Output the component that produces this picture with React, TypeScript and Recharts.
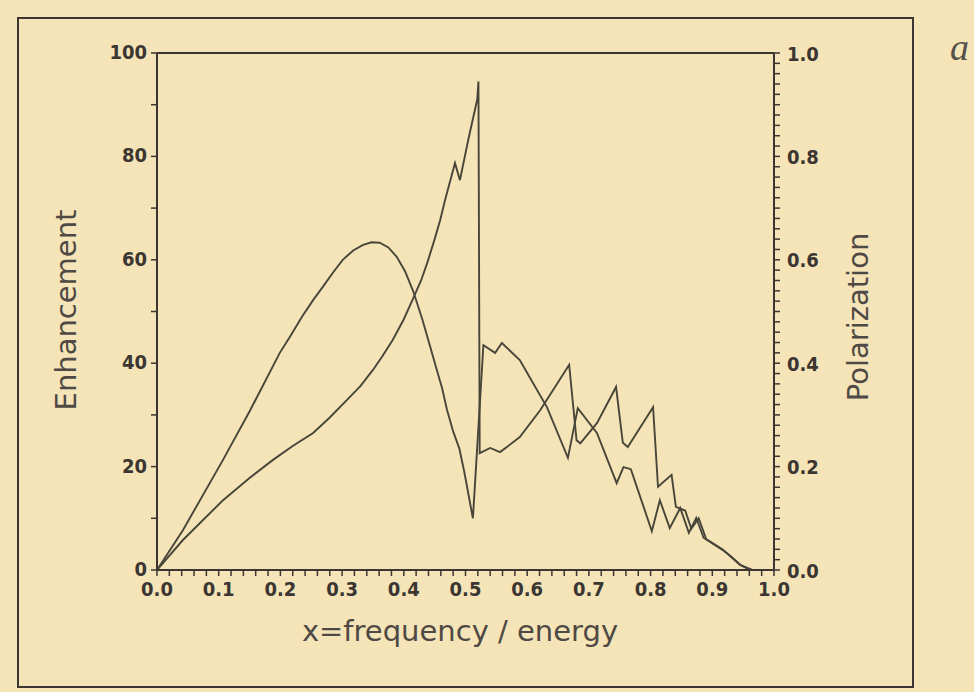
import { LineChart, Line, XAxis, YAxis, ReferenceLine, Customized } from "recharts";

// enhancement curve (left axis, 0..100)
const enhX = [
  0, 0.042, 0.107, 0.15, 0.188, 0.22, 0.253, 0.28, 0.308, 0.33, 0.35, 0.365,
  0.382, 0.4, 0.415, 0.428, 0.438, 0.45, 0.459, 0.467, 0.483, 0.491, 0.505,
  0.519, 0.521, 0.523, 0.54, 0.556, 0.588, 0.621, 0.642, 0.668, 0.68, 0.686,
  0.713, 0.744, 0.755, 0.763, 0.804, 0.812, 0.834, 0.841, 0.856, 0.866, 0.878,
  0.89, 0.9, 0.917, 0.93, 0.945, 0.961, 0.99,
];
const enhY = [
  0, 5.8, 13.5, 17.8, 21.3, 24, 26.5, 29.5, 32.9, 35.6, 38.7, 41.3, 44.5, 48.5,
  52.5, 56, 59.4, 64, 67.7, 71.6, 78.7, 75.4, 83.5, 91, 94.5, 22.6, 23.6, 22.8,
  25.7, 30.9, 34.8, 39.7, 25.1, 24.5, 28.4, 35.4, 24.6, 23.8, 31.5, 16.1, 18.4,
  12.2, 11.5, 8, 10, 6, 5.2, 3.9, 2.6, 1, 0, 0,
];

// polarization curve (right axis, 0..1)
const polX = [
  0, 0.042, 0.107, 0.151, 0.199, 0.216, 0.235, 0.253, 0.269, 0.285, 0.301, 0.318,
  0.334, 0.348, 0.361, 0.375, 0.389, 0.402, 0.415, 0.43, 0.442, 0.452, 0.462,
  0.47, 0.48, 0.49, 0.498, 0.512, 0.529, 0.548, 0.559, 0.588, 0.604, 0.632, 0.666,
  0.682, 0.713, 0.745, 0.756, 0.768, 0.802, 0.815, 0.831, 0.848, 0.862, 0.874,
  0.886, 0.9, 0.917, 0.93, 0.945, 0.965,
];
const polY = [
  0, 0.077, 0.213, 0.309, 0.42, 0.452, 0.49, 0.522, 0.548, 0.575, 0.6, 0.618,
  0.629, 0.634, 0.633, 0.624, 0.605, 0.578, 0.54, 0.485, 0.435, 0.393, 0.352,
  0.31, 0.268, 0.235, 0.19, 0.1, 0.435, 0.42, 0.439, 0.406, 0.373, 0.315, 0.217,
  0.313, 0.265, 0.168, 0.199, 0.195, 0.075, 0.135, 0.081, 0.12, 0.072, 0.101,
  0.062, 0.052, 0.039, 0.026, 0.01, 0,
];

const xMajor = [0, 0.1, 0.2, 0.3, 0.4, 0.5, 0.6, 0.7, 0.8, 0.9, 1.0];
const xLabels = ["0.0", "0.1", "0.2", "0.3", "0.4", "0.5", "0.6", "0.7", "0.8", "0.9", "1.0"];
const leftMajor = [0, 20, 40, 60, 80, 100];
const leftLabels = ["0", "20", "40", "60", "80", "100"];
const rightMajor = [0, 0.2, 0.4, 0.6, 0.8, 1.0];
const rightLabels = ["0.0", "0.2", "0.4", "0.6", "0.8", "1.0"];

const fineTicks = Array.from({ length: 51 }, (_, i) => i / 50);
const leftTicks = Array.from({ length: 11 }, (_, i) => i * 10);

const BG = "#f4e4b7";
const INK = "#3b3632";
const CURVE = "#48453a";
const TICK_FONT = "'DejaVu Sans Condensed', 'DejaVu Sans', sans-serif";
const TITLE_FONT = "'DejaVu Sans', sans-serif";

const enhData = enhX.map((x, i) => ({ x, y: enhY[i] }));
const polData = polX.map((x, i) => ({ x, y: polY[i] }));

function labelFor(v: number, majors: number[], labels: string[]) {
  const i = majors.findIndex((m) => Math.abs(m - v) < 1e-6);
  return i < 0 ? null : labels[i];
}

function XTick(props: any) {
  const { x, y, payload } = props;
  const lab = labelFor(payload.value, xMajor, xLabels);
  return (
    <g>
      <line x1={x} x2={x} y1={y} y2={y + 6} stroke={INK} strokeWidth={1.5} />
      {lab && (
        <text x={x} y={y + 26} textAnchor="middle" fill={INK} fontFamily={TICK_FONT}
          fontStretch="condensed" fontWeight="bold" fontSize={20}>
          {lab}
        </text>
      )}
    </g>
  );
}

function LeftTick(props: any) {
  const { x, y, payload } = props;
  const lab = labelFor(payload.value, leftMajor, leftLabels);
  return (
    <g>
      <line x1={x - 6} x2={x} y1={y} y2={y} stroke={INK} strokeWidth={1.5} />
      {lab && (
        <text x={x - 10} y={y + 6} textAnchor="end" fill={INK} fontFamily={TICK_FONT}
          fontStretch="condensed" fontWeight="bold" fontSize={20}>
          {lab}
        </text>
      )}
    </g>
  );
}

function RightTick(props: any) {
  const { x, y, payload } = props;
  const lab = labelFor(payload.value, rightMajor, rightLabels);
  return (
    <g>
      <line x1={x} x2={x + 6} y1={y} y2={y} stroke={INK} strokeWidth={1.5} />
      {lab && (
        <text x={x + 13} y={y + 7.5} textAnchor="start" fill={INK} fontFamily={TICK_FONT}
          fontStretch="condensed" fontWeight="bold" fontSize={20}>
          {lab}
        </text>
      )}
    </g>
  );
}

function Titles() {
  return (
    <g fill="#4e4944" fontFamily={TITLE_FONT} fontSize={29}>
      <text x={66} y={310} textAnchor="middle" dominantBaseline="central" transform="rotate(-90 66 310)">
        Enhancement
      </text>
      <text x={858} y={317} textAnchor="middle" dominantBaseline="central" transform="rotate(-90 858 317)">
        Polarization
      </text>
      <text x={460} y={641} textAnchor="middle">
        x=frequency / energy
      </text>
      <text x={950} y={60} fontFamily="'Liberation Serif', serif" fontStyle="italic" fontSize={38} fill="#55504a">
        a
      </text>
    </g>
  );
}

export default function App() {
  return (
    <div style={{ position: "fixed", left: 0, top: 0, width: 974, height: 692, background: BG, overflow: "hidden" }}>
      <div
        style={{
          position: "absolute", left: 17, top: 17, width: 897, height: 671,
          border: `2px solid ${INK}`, boxSizing: "border-box",
        }}
      />
      <div style={{ position: "absolute", left: 0, top: 0 }}>
        <LineChart width={974} height={692} margin={{ top: 53, right: 140, bottom: 92, left: 97 }}>
          <XAxis
            type="number"
            dataKey="x"
            domain={[0, 1]}
            allowDataOverflow
            ticks={fineTicks}
            interval={0}
            tick={<XTick />}
            tickLine={false}
            tickSize={0}
            tickMargin={0}
            height={30}
            axisLine={{ stroke: INK, strokeWidth: 2 }}
          />
          <YAxis
            yAxisId="left"
            type="number"
            domain={[0, 100]}
            allowDataOverflow
            ticks={leftTicks}
            interval={0}
            tick={<LeftTick />}
            tickLine={false}
            tickSize={0}
            tickMargin={0}
            width={60}
            axisLine={{ stroke: INK, strokeWidth: 2 }}
          />
          <YAxis
            yAxisId="right"
            orientation="right"
            type="number"
            domain={[0, 1]}
            allowDataOverflow
            ticks={fineTicks}
            interval={0}
            tick={<RightTick />}
            tickLine={false}
            tickSize={0}
            tickMargin={0}
            width={60}
            axisLine={{ stroke: INK, strokeWidth: 2 }}
          />
          <ReferenceLine yAxisId="left" y={100} stroke={INK} strokeWidth={2} />
          <Line
            yAxisId="left"
            data={enhData}
            dataKey="y"
            type="linear"
            stroke={CURVE}
            strokeWidth={1.9}
            dot={false}
            isAnimationActive={false}
          />
          <Line
            yAxisId="right"
            data={polData}
            dataKey="y"
            type="linear"
            stroke={CURVE}
            strokeWidth={1.9}
            dot={false}
            isAnimationActive={false}
          />
          <Customized component={<Titles />} />
        </LineChart>
      </div>
    </div>
  );
}
